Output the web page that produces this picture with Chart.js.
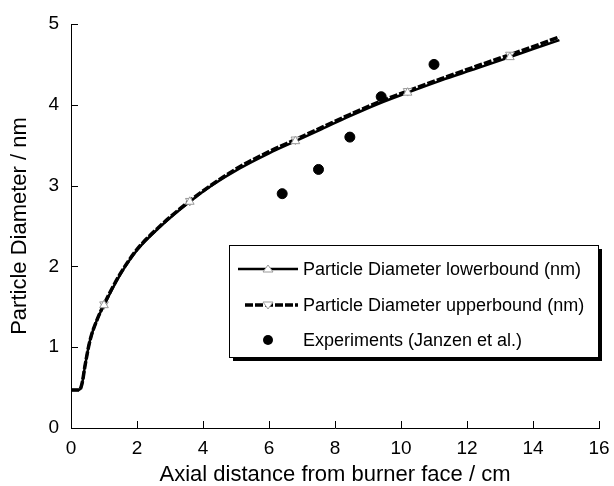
<!DOCTYPE html>
<html>
<head>
<meta charset="utf-8">
<script src="https://cdn.jsdelivr.net/npm/chart.js@4"></script>
<style>
  body { margin: 0; background: #fff; }
  #wrap { width: 614px; height: 486px; }
</style>
</head>
<body>
<div id="wrap"><canvas id="cht"></canvas></div>
<script>
// values
const distance = [0, 0.25, 0.3, 0.35, 0.42, 0.58, 0.8, 1.0, 1.48, 2.0, 2.7, 3.6, 4.3, 5.1, 6.0, 6.8, 7.6, 8.45, 9.3, 10.2, 11.2, 12.3, 13.3, 14.0, 14.8];
const lowerDiameter = [0.47, 0.47, 0.5, 0.58, 0.76, 1.09, 1.35, 1.52, 1.89, 2.2, 2.49, 2.8, 3.01, 3.21, 3.4, 3.55, 3.7, 3.86, 4.01, 4.15, 4.3, 4.45, 4.59, 4.69, 4.8];
const upperDiameter = [0.47, 0.47, 0.5, 0.58, 0.76, 1.09, 1.35, 1.53, 1.9, 2.21, 2.5, 2.81, 3.02, 3.23, 3.42, 3.57, 3.72, 3.88, 4.03, 4.17, 4.32, 4.48, 4.62, 4.72, 4.84];
const markerAt = [1.0, 3.6, 6.8, 10.2, 13.3];
const expDistance = [6.4, 7.5, 8.45, 9.4, 11.0];
const expDiameter = [2.9, 3.2, 3.6, 4.1, 4.5];
const xTicks = [0, 2, 4, 6, 8, 10, 12, 14, 16];
const yTicks = [0, 1, 2, 3, 4, 5];

const font = "'Liberation Sans', Arial, sans-serif";

function pts(xs, ys) {
    return xs.map((x, i) => ({ x: x, y: ys[i] }));
}
function markerRadius(ctx) {
    let p = ctx.raw;
    return (p && markerAt.includes(p.x)) ? 5 : 0;
}

// box legend with shadow, like the original
const boxLegend = {
    id: 'boxLegend',
    afterDraw(chart) {
        const c = chart.ctx;
        const L = 229, T = 245, W = 369, H = 112;
        c.save();
        c.fillStyle = '#000';
        c.fillRect(L + 4, T + 4, W, H);
        c.fillStyle = '#fff';
        c.fillRect(L, T, W, H);
        c.strokeStyle = '#000';
        c.lineWidth = 1;
        c.strokeRect(L + 0.5, T + 0.5, W, H);
        c.font = '18px ' + font;
        c.textBaseline = 'middle';
        c.fillStyle = '#000';
        const rows = [269, 305, 340];
        chart.data.datasets.forEach((ds, i) => {
            let y = rows[i];
            if (ds.showLine) {
                c.beginPath();
                c.strokeStyle = '#000';
                c.lineWidth = ds.borderWidth;
                c.setLineDash(i == 1 ? [8, 2] : []);
                c.moveTo(i == 1 ? 245 : 238, y);
                c.lineTo(298, y);
                c.stroke();
                c.setLineDash([]);
                // triangle marker
                c.beginPath();
                let s = i == 1 ? -1 : 1;
                c.moveTo(268, y - 4 * s);
                c.lineTo(263, y + 3 * s);
                c.lineTo(273, y + 3 * s);
                c.closePath();
                c.fillStyle = '#fff';
                c.fill();
                c.strokeStyle = '#999';
                c.lineWidth = 1;
                c.stroke();
            } else {
                c.beginPath();
                c.arc(268, y, 5, 0, Math.PI * 2);
                c.fillStyle = '#000';
                c.fill();
            }
            c.fillStyle = '#000';
            c.fillText(ds.label, 303, y + 1);
        });
        c.restore();
    }
};

// ticks on both axes point into the plot
const innerTicks = {
    id: 'innerTicks',
    afterDraw(chart) {
        const c = chart.ctx;
        const xs = chart.scales.x, ys = chart.scales.y;
        const a = chart.chartArea;
        c.save();
        c.strokeStyle = '#000';
        c.lineWidth = 1;
        xTicks.forEach(v => {
            let px = Math.round(xs.getPixelForValue(v)) + 0.5;
            c.beginPath();
            c.moveTo(px, a.bottom);
            c.lineTo(px, a.bottom - 7);
            c.stroke();
        });
        yTicks.forEach(v => {
            let py = Math.round(ys.getPixelForValue(v)) + 0.5;
            c.beginPath();
            c.moveTo(a.left, py);
            c.lineTo(a.left + 7, py);
            c.stroke();
        });
        c.restore();
    }
};

new Chart(document.getElementById('cht'), {
    type: 'scatter',
    data: {
        datasets: [{
            label: 'Particle Diameter lowerbound (nm)',
            data: pts(distance, lowerDiameter),
            showLine: true,
            borderColor: '#000',
            borderWidth: 2.5,
            cubicInterpolationMode: 'monotone',
            pointStyle: 'triangle',
            pointRadius: markerRadius,
            pointBackgroundColor: '#fff',
            pointBorderColor: '#999',
            pointBorderWidth: 1
        }, {
            label: 'Particle Diameter upperbound (nm)',
            data: pts(distance, upperDiameter),
            showLine: true,
            borderColor: '#000',
            borderWidth: 3.5,
            borderDash: [8, 2],
            cubicInterpolationMode: 'monotone',
            pointStyle: 'triangle',
            rotation: 180,
            pointRadius: markerRadius,
            pointBackgroundColor: '#fff',
            pointBorderColor: '#999',
            pointBorderWidth: 1
        }, {
            label: 'Experiments (Janzen et al.)',
            data: pts(expDistance, expDiameter),
            showLine: false,
            pointRadius: 5,
            pointBackgroundColor: '#000',
            pointBorderColor: '#000'
        }]
    },
    options: {
        responsive: true,
        maintainAspectRatio: false,
        animation: false,
        layout: { padding: { top: 24, right: 15, left: 0, bottom: 0 } },
        plugins: {
            legend: { display: false },
            tooltip: { enabled: false }
        },
        scales: {
            x: {
                type: 'linear',
                min: 0,
                max: 16,
                afterBuildTicks: s => { s.ticks = xTicks.map(v => ({ value: v })); },
                afterFit: s => { s.height = 58; s.paddingRight = 0; },
                grid: { display: false, drawTicks: false, tickLength: 0 },
                border: { color: '#000', width: 1 },
                ticks: { color: '#000', font: { family: font, size: 19 }, padding: 9 },
                title: {
                    display: true,
                    text: 'Axial distance from burner face / cm',
                    color: '#000',
                    font: { family: font, size: 22, lineHeight: 1 },
                    padding: { top: 0, bottom: 0 }
                }
            },
            y: {
                min: 0,
                max: 5,
                afterBuildTicks: s => { s.ticks = yTicks.map(v => ({ value: v })); },
                afterFit: s => { s.width = 71; },
                grid: { display: false, drawTicks: false, tickLength: 0 },
                border: { color: '#000', width: 1 },
                ticks: { color: '#000', font: { family: font, size: 19 }, padding: 12 },
                title: {
                    display: true,
                    text: 'Particle Diameter / nm',
                    color: '#000',
                    font: { family: font, size: 22, lineHeight: 1 },
                    padding: { top: 9, bottom: 0 }
                }
            }
        }
    },
    plugins: [innerTicks, boxLegend]
});
</script>
</body>
</html>
